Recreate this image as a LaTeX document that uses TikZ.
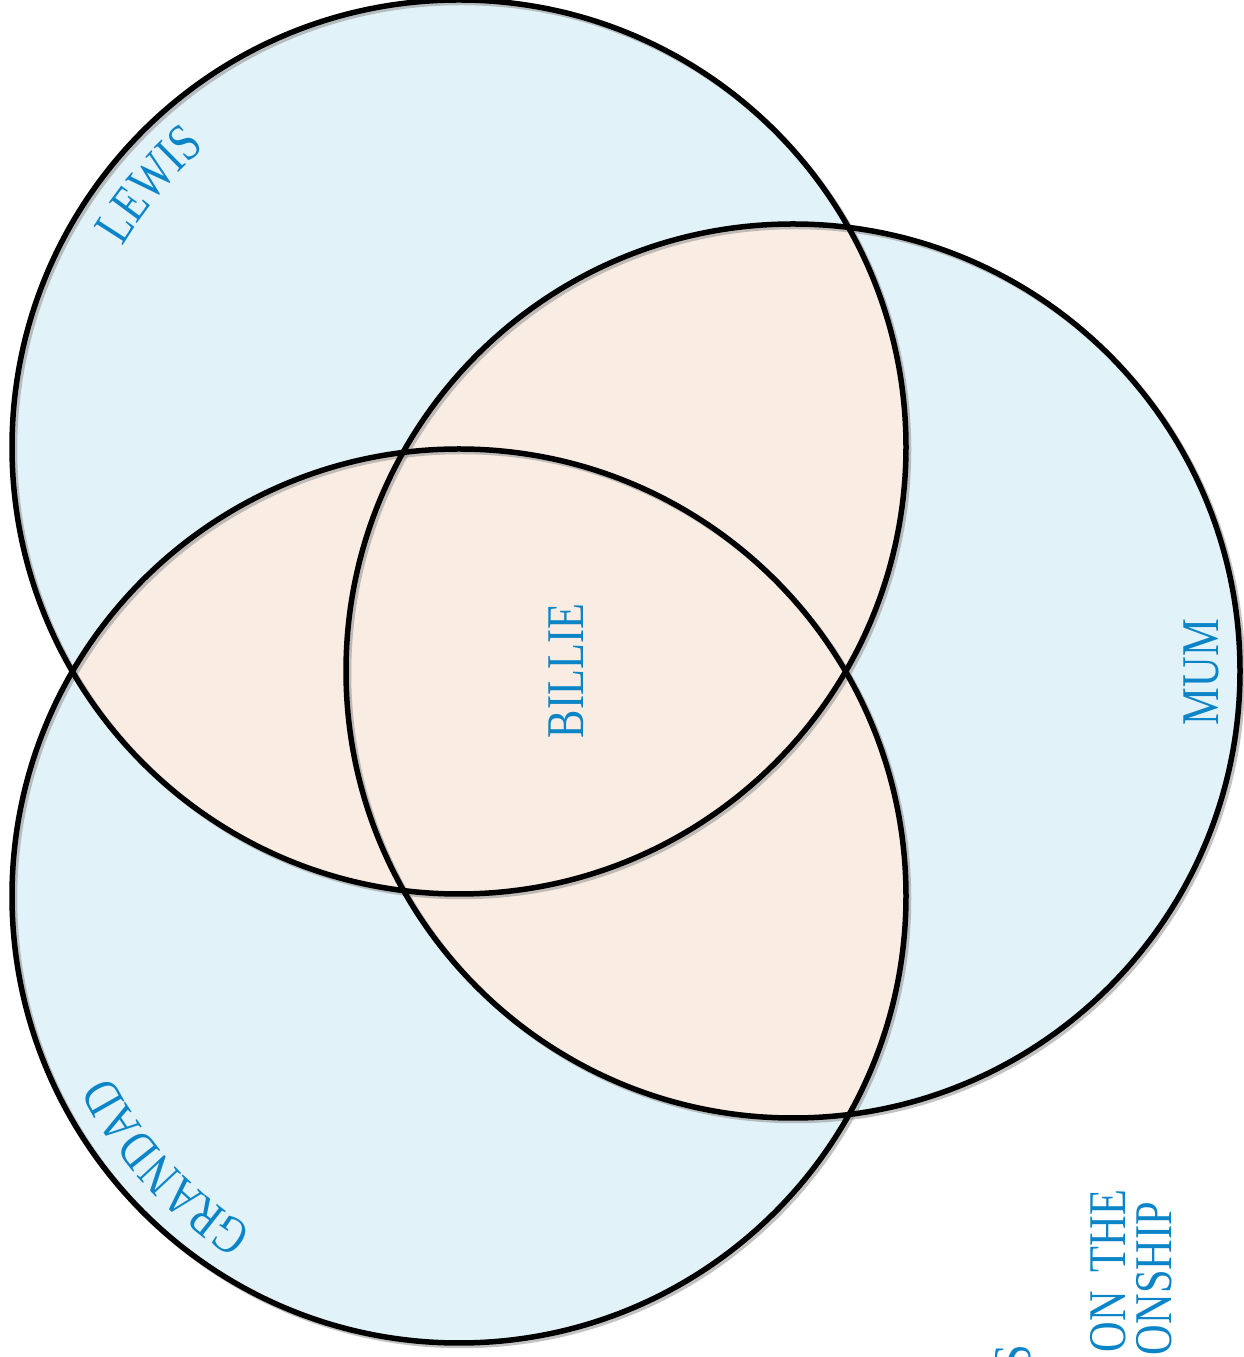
\documentclass[tikz,border=0pt]{standalone}
\usepackage{fontspec}
\newfontfamily\labfont[FakeStretch=0.8]{Liberation Serif}
\definecolor{circfill}{HTML}{E1F2F8}
\definecolor{overlap}{HTML}{F9ECE2}
\definecolor{labblue}{HTML}{0C85C8}
\begin{document}
\begin{tikzpicture}[x=1pt,y=1pt,
  lab/.style={text=labblue, font=\labfont\fontsize{53}{60}\selectfont, inner sep=0pt, outer sep=0pt},
  ring/.style={line width=5.5pt, draw=black},
  shade/.style={line width=5.5pt, draw=black!40, opacity=0.6}]
\useasboundingbox (0,0) rectangle (1244,1357);
\clip (0,0) rectangle (1244,1357);
\coordinate (L) at (459,910);
\coordinate (M) at (793,686);
\coordinate (G) at (459,461);
\def\R{447}
% base fills
\fill[circfill] (L) circle[radius=\R];
\fill[circfill] (M) circle[radius=\R];
\fill[circfill] (G) circle[radius=\R];
% overlaps
\begin{scope}
  \clip (L) circle[radius=\R];
  \fill[overlap] (M) circle[radius=\R];
  \fill[overlap] (G) circle[radius=\R];
\end{scope}
\begin{scope}
  \clip (M) circle[radius=\R];
  \fill[overlap] (G) circle[radius=\R];
\end{scope}
% shadows
\draw[shade] ([shift={(2.5,-2.5)}]L) circle[radius=\R];
\draw[shade] ([shift={(2.5,-2.5)}]M) circle[radius=\R];
\draw[shade] ([shift={(2.5,-2.5)}]G) circle[radius=\R];
% outlines
\draw[ring] (L) circle[radius=\R];
\draw[ring] (M) circle[radius=\R];
\draw[ring] (G) circle[radius=\R];
% curved labels
\foreach \ch/\a [count=\i] in {L/147.32, E/143.54, W/138.72, I/134.77, S/132.01}
  \node[lab, anchor=base, rotate=\a-90] (lewis\i) at ([shift={(\a:392)}]L) {\ch};
\foreach \ch/\a [count=\i] in {G/236.05, R/231.75, A/227.44, N/222.97, D/218.5, A/214.02, D/209.55}
  \node[lab, anchor=base, rotate=\a-90] (grandad\i) at ([shift={(\a:392)}]G) {\ch};
% straight labels
\node[lab, rotate=90, anchor=base] (billie) at (583,686) {BILLIE};
\node[lab, rotate=90, anchor=base] (mum) at (1218,685) {MUM};
% partially visible caption
\node[lab, rotate=90, anchor=base east] (cap1) at (1030,12) {S};
\node[lab, rotate=90, anchor=base east] (cap2) at (1125,167) {ON\hspace{8pt} THE};
\node[lab, rotate=90, anchor=base east] (cap3) at (1171,155) {ONSHIP};
\end{tikzpicture}
\end{document}
